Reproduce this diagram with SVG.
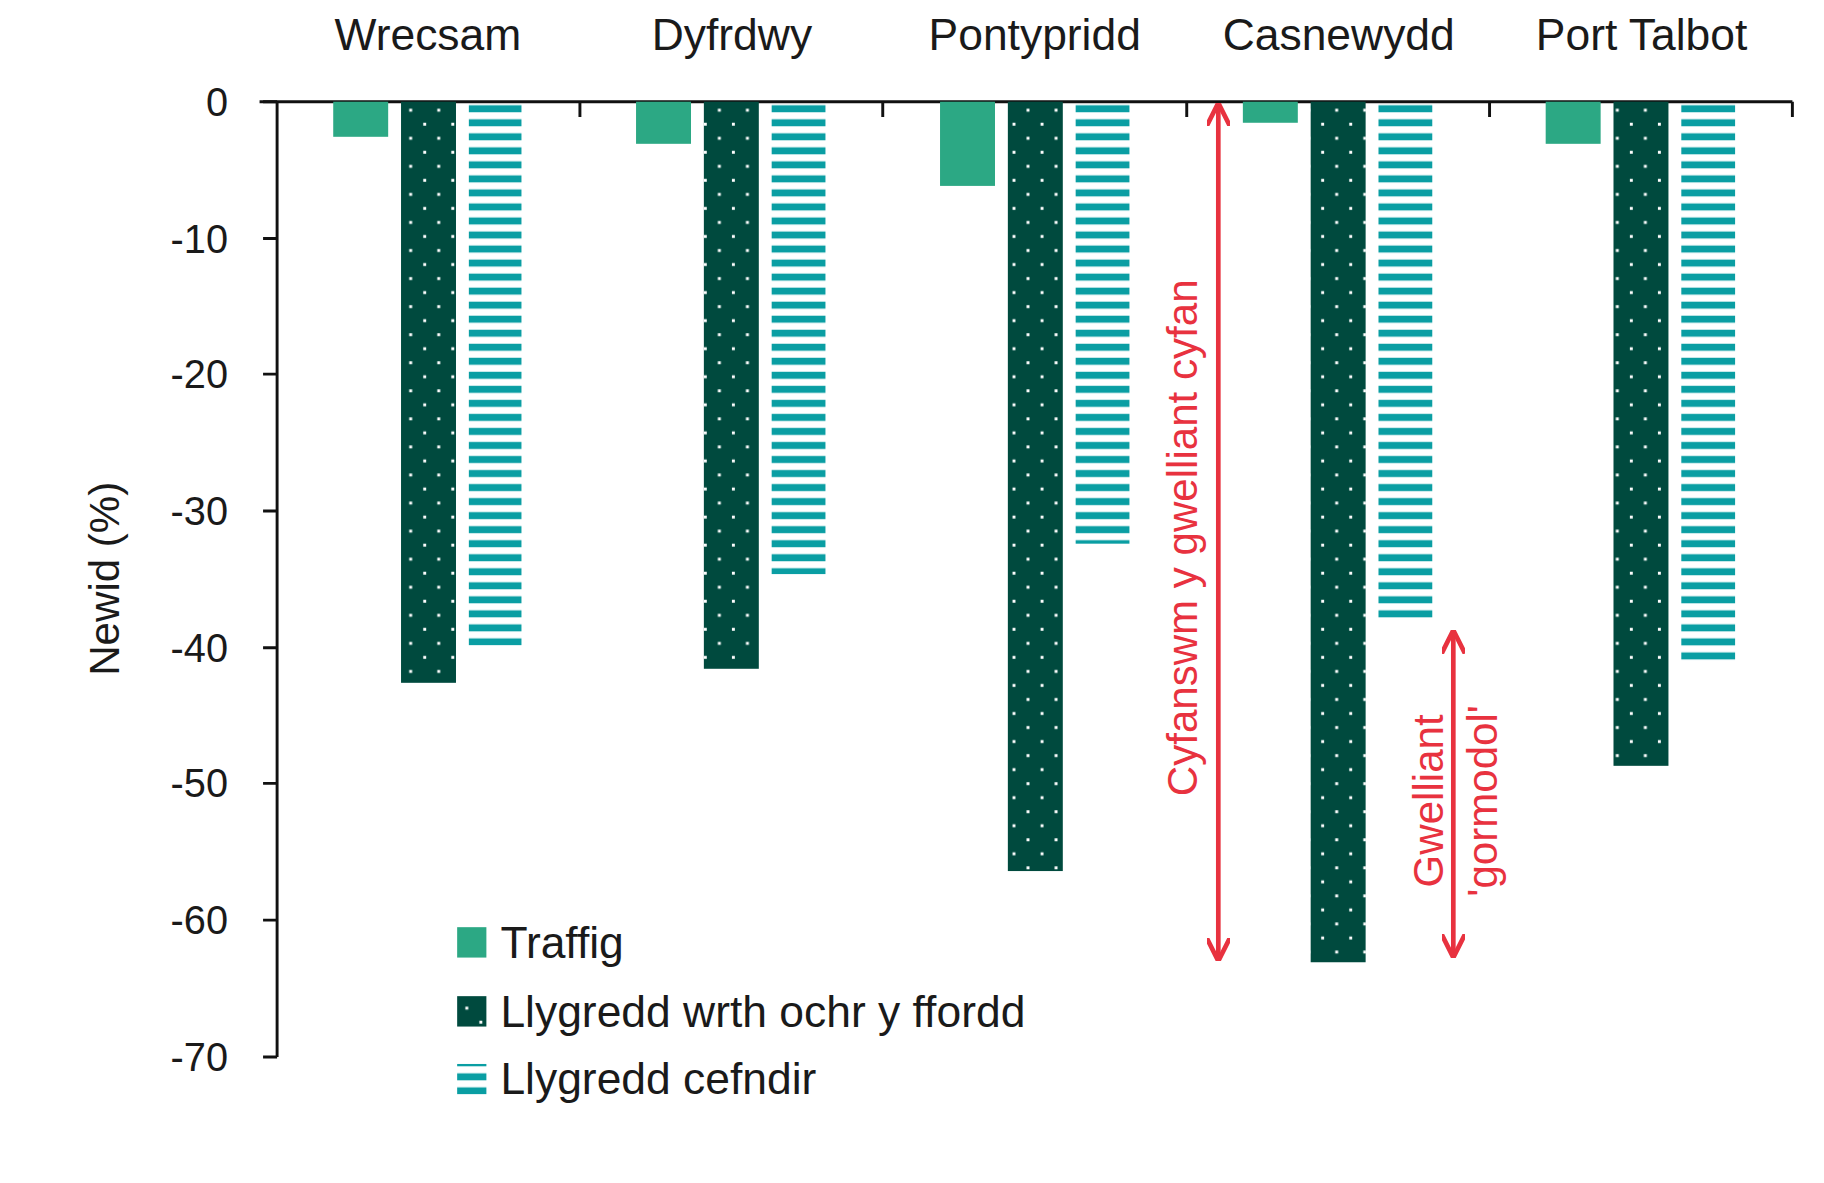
<svg xmlns="http://www.w3.org/2000/svg" width="1824" height="1183" viewBox="0 0 1824 1183">
<style>
text{font-family:"Liberation Sans","DejaVu Sans",sans-serif;fill:#1a1a1a}
.cat{font-size:38px;text-anchor:middle}
.yl{font-size:34px;text-anchor:end}
.lg{font-size:38px}
.red{fill:#e8323f;font-size:36px;text-anchor:middle}
.tr{fill:#2ca884}.rd{fill:url(#dots)}.bg{fill:url(#stripes)}
.ax{stroke:#111;stroke-width:2.5;fill:none}
</style>
<defs>
<pattern id="dots" patternUnits="userSpaceOnUse" width="24" height="24" x="343" y="87">
<rect width="24" height="24" fill="#004a3e"/>
<rect x="7" y="6" width="2.5" height="2.5" fill="#fff"/>
<rect x="19" y="18" width="2.5" height="2.5" fill="#fff"/>
</pattern>
<pattern id="stripes" patternUnits="userSpaceOnUse" width="12" height="12" x="0" y="87">
<rect y="3" width="12" height="6" fill="#0a9ea3"/>
</pattern>
<marker id="ah" viewBox="0 0 10 10" refX="9" refY="5" markerWidth="5" markerHeight="5" orient="auto-start-reverse" markerUnits="strokeWidth">
<path d="M0,0 L10,5 L0,10" fill="none" stroke="#e8323f" stroke-width="2"/>
</marker>
</defs>
<g transform="scale(1.1692)">
<g id="axes">
<line class="ax" x1="222" y1="87" x2="1533" y2="87"/>
<line class="ax" x1="237" y1="87" x2="237" y2="904"/>
<path class="ax" d="M225,87H237M225,204H237M225,320H237M225,437H237M225,554H237M225,670H237M225,787H237M225,904H237M496,87V100M755,87V100M1015,87V100M1274,87V100M1533,87V100"/>
<text class="yl" x="195" y="99">0</text>
<text class="yl" x="195" y="216">-10</text>
<text class="yl" x="195" y="332">-20</text>
<text class="yl" x="195" y="449">-30</text>
<text class="yl" x="195" y="566">-40</text>
<text class="yl" x="195" y="682">-50</text>
<text class="yl" x="195" y="799">-60</text>
<text class="yl" x="195" y="916">-70</text>
<text transform="translate(102,495) rotate(-90)" style="font-size:36px;text-anchor:middle">Newid (%)</text>
</g>
<g id="Wrecsam"><text class="cat" x="366" y="43">Wrecsam</text>
<rect class="tr" x="285" y="87" width="47" height="30"/><rect class="rd" x="343" y="87" width="47" height="497"/><rect class="bg" x="401" y="87" width="45" height="465"/></g>
<g id="Dyfrdwy"><text class="cat" x="626" y="43">Dyfrdwy</text>
<rect class="tr" x="544" y="87" width="47" height="36"/><rect class="rd" x="602" y="87" width="47" height="485"/><rect class="bg" x="660" y="87" width="46" height="404"/></g>
<g id="Pontypridd"><text class="cat" x="885" y="43">Pontypridd</text>
<rect class="tr" x="804" y="87" width="47" height="72"/><rect class="rd" x="862" y="87" width="47" height="658"/><rect class="bg" x="920" y="87" width="46" height="378"/></g>
<g id="Casnewydd"><text class="cat" x="1145" y="43">Casnewydd</text>
<rect class="tr" x="1063" y="87" width="47" height="18"/><rect class="rd" x="1121" y="87" width="47" height="736"/><rect class="bg" x="1179" y="87" width="46" height="444"/></g>
<g id="PortTalbot"><text class="cat" x="1404" y="43">Port Talbot</text>
<rect class="tr" x="1322" y="87" width="47" height="36"/><rect class="rd" x="1380" y="87" width="47" height="568"/><rect class="bg" x="1438" y="87" width="46" height="479"/></g>
<g id="legend">
<rect class="tr" x="391" y="793" width="25" height="26"/><text class="lg" x="428" y="819">Traffig</text>
<rect class="rd" x="391" y="852" width="25" height="26"/><text class="lg" x="428" y="878">Llygredd wrth ochr y ffordd</text>
<rect class="bg" x="391" y="910" width="25" height="26"/><text class="lg" x="428" y="936">Llygredd cefndir</text>
</g>
<g id="connectors">
<line x1="1042" y1="90" x2="1042" y2="820" stroke="#e8323f" stroke-width="4" marker-start="url(#ah)" marker-end="url(#ah)"/>
<line x1="1243" y1="541" x2="1243" y2="817" stroke="#e8323f" stroke-width="4" marker-start="url(#ah)" marker-end="url(#ah)"/>
</g>
<g id="annotations">
<text class="red" transform="translate(1024,460) rotate(-90)">Cyfanswm y gwelliant cyfan</text>
<text class="red" transform="translate(1234,685) rotate(-90)">Gwelliant</text>
<text class="red" transform="translate(1280,685) rotate(-90)">'gormodol'</text>
</g>
</g>
</svg>
